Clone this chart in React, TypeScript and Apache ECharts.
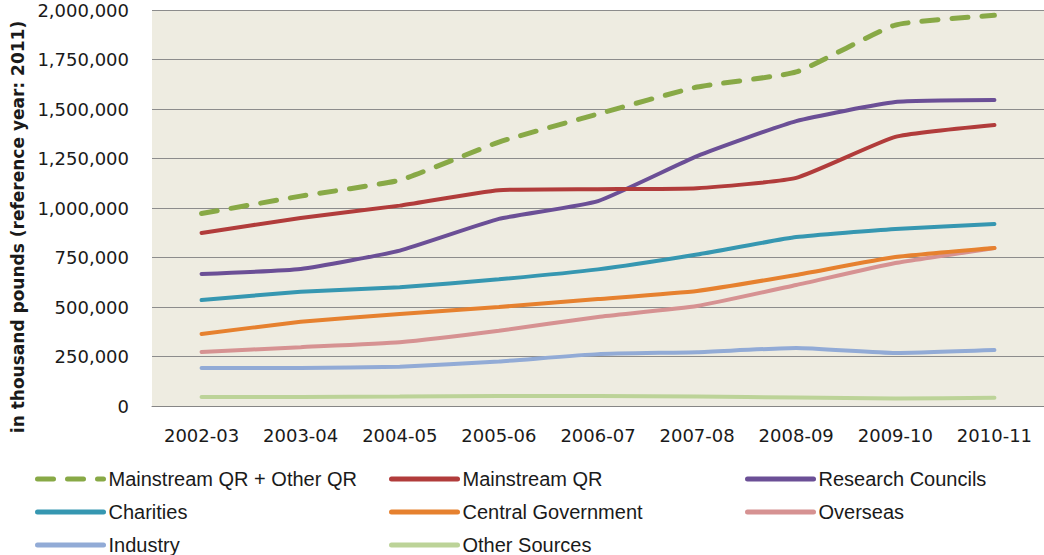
import React, { useEffect, useRef } from "react";
import * as echarts from "echarts";

const categories = ["2002-03", "2003-04", "2004-05", "2005-06", "2006-07", "2007-08", "2008-09", "2009-10", "2010-11"];
const mainstreamPlusOther = [972000, 1060000, 1141000, 1333000, 1475000, 1611000, 1687000, 1924000, 1973000];
const mainstreamQR = [874000, 950000, 1012000, 1090000, 1095000, 1100000, 1152000, 1359000, 1419000];
const researchCouncils = [667000, 692000, 785000, 945000, 1035000, 1262000, 1439000, 1535000, 1545000];
const charities = [535000, 577000, 600000, 640000, 690000, 765000, 853000, 894000, 919000];
const centralGovernment = [364000, 425000, 465000, 500000, 540000, 581000, 662000, 752000, 798000];
const overseas = [273000, 297000, 322000, 380000, 450000, 505000, 611000, 722000, 798000];
const industry = [192000, 192000, 198000, 225000, 262000, 272000, 293000, 268000, 283000];
const otherSources = [45000, 46000, 48000, 50000, 50000, 48000, 43000, 38000, 42000];

const seriesNames = [
  "Mainstream QR + Other QR",
  "Mainstream QR",
  "Research Councils",
  "Charities",
  "Central Government",
  "Overseas",
  "Industry",
  "Other Sources",
];
const seriesColors = ["#88A946", "#B13C3B", "#6B4F96", "#3697B1", "#E6812F", "#D69292", "#92ABD6", "#BCD398"];
const seriesData = [mainstreamPlusOther, mainstreamQR, researchCouncils, charities, centralGovernment, overseas, industry, otherSources];

const yAxisTitle = "in thousand pounds (reference year: 2011)";

export default function App() {
  const ref = useRef<HTMLDivElement>(null);
  useEffect(() => {
    if (!ref.current) return;
    const chart = echarts.init(ref.current, undefined, { renderer: "svg" });
    const legendText = { fontFamily: "Liberation Sans", fontSize: 20, color: "#1a1a1a", lineHeight: 20 };
    const mkLegend = (left: number, names: string[]) => ({
      orient: "vertical",
      left,
      top: 469,
      padding: 0,
      itemWidth: 66,
      itemHeight: 14,
      itemGap: 13,
      textStyle: legendText,
      itemStyle: { opacity: 0 },
      lineStyle: { width: 5, cap: "round" },
      data: names,
    });
    chart.setOption({
      animation: false,
      backgroundColor: "#ffffff",
      grid: { left: 152, top: 10, width: 902, height: 396, backgroundColor: "#EEECE1", show: true, borderWidth: 0 },
      xAxis: {
        type: "category",
        data: categories,
        boundaryGap: true,
        axisTick: { show: false },
        axisLine: { lineStyle: { color: "#868686", width: 1 } },
        axisLabel: { fontFamily: "DejaVu Sans", fontSize: 18, color: "#1a1a1a", margin: 20 },
      },
      yAxis: {
        type: "value",
        min: 0,
        max: 2000000,
        interval: 250000,
        axisLine: { show: false },
        axisTick: { show: false },
        splitLine: { lineStyle: { color: "#8C8C8C", width: 1 } },
        axisLabel: {
          fontFamily: "DejaVu Sans",
          fontSize: 18,
          color: "#1a1a1a",
          margin: 23,
          formatter: (v: number) => v.toLocaleString("en-US"),
        },
      },
      legend: [
        mkLegend(35, [seriesNames[0], seriesNames[3], seriesNames[6]]),
        mkLegend(389, [seriesNames[1], seriesNames[4], seriesNames[7]]),
        mkLegend(745, [seriesNames[2], seriesNames[5]]),
      ],
      graphic: [
        {
          type: "text",
          x: 18,
          y: 227,
          rotation: Math.PI / 2,
          style: {
            text: yAxisTitle,
            fontFamily: "DejaVu Sans",
            fontWeight: "bold",
            fontSize: 17,
            fill: "#1a1a1a",
            align: "center",
            verticalAlign: "middle",
          },
        },
      ],
      series: seriesNames.map((name, i) => ({
        name,
        type: "line",
        data: seriesData[i],
        symbol: "none",
        smooth: 0.15,
        z: i === 0 ? 10 : 8 - i,
        color: seriesColors[i],
        lineStyle: {
          color: seriesColors[i],
          width: i === 0 ? 5 : 4,
          type: i === 0 ? [16, 14] : "solid",
          cap: "round",
        },
      })),
    });
    return () => chart.dispose();
  }, []);
  return <div ref={ref} style={{ position: "absolute", left: 0, top: 0, width: 1044, height: 555 }} />;
}
